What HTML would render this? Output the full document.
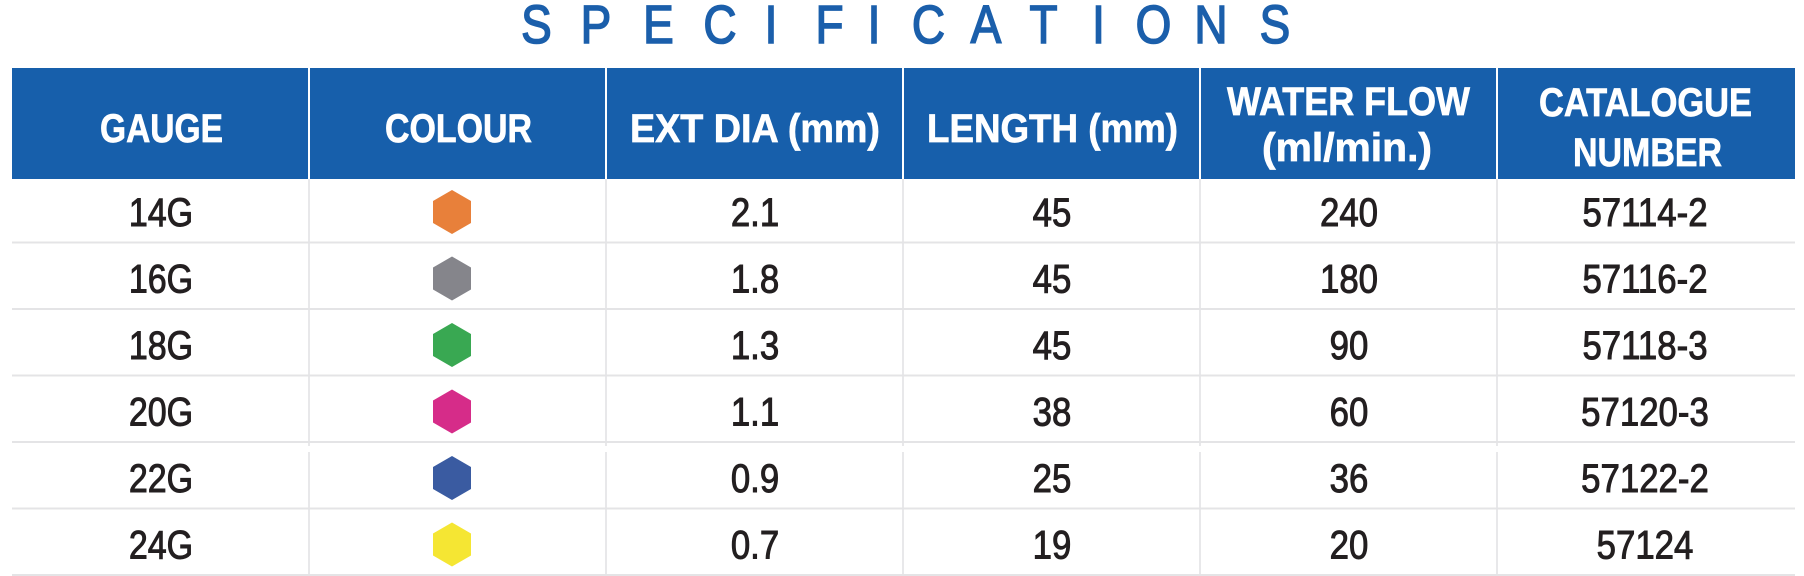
<!DOCTYPE html>
<html>
<head>
<meta charset="utf-8">
<style>
html,body{margin:0;padding:0;background:#fff;}
svg{display:block;}
.t{font-family:"Liberation Sans",sans-serif;font-size:54px;fill:#1b5fab;stroke:#1b5fab;stroke-width:1.6px;}
.h{font-family:"Liberation Sans",sans-serif;font-weight:bold;font-size:40px;fill:#fff;stroke:#fff;stroke-width:0.7px;}
.d{font-family:"Liberation Sans",sans-serif;font-size:40px;fill:#231f20;stroke:#231f20;stroke-width:1px;}
</style>
</head>
<body>
<svg width="1804" height="576" viewBox="0 0 1804 576" xmlns="http://www.w3.org/2000/svg">
<rect width="1804" height="576" fill="#fff"/>

<!-- Title -->
<g class="t" text-anchor="middle">
<text transform="translate(536.5,43) scale(0.85,1)">S</text>
<text transform="translate(596,43) scale(0.85,1)">P</text>
<text transform="translate(658.5,43) scale(0.85,1)">E</text>
<text transform="translate(720,43) scale(0.85,1)">C</text>
<text transform="translate(771,43) scale(0.85,1)">I</text>
<text transform="translate(829.5,43) scale(0.85,1)">F</text>
<text transform="translate(874,43) scale(0.85,1)">I</text>
<text transform="translate(928.5,43) scale(0.85,1)">C</text>
<text transform="translate(986,43) scale(0.85,1)">A</text>
<text transform="translate(1043.5,43) scale(0.85,1)">T</text>
<text transform="translate(1098.5,43) scale(0.85,1)">I</text>
<text transform="translate(1153.5,43) scale(0.85,1)">O</text>
<text transform="translate(1211,43) scale(0.85,1)">N</text>
<text transform="translate(1275,43) scale(0.85,1)">S</text>
</g>

<!-- Header -->
<rect x="12" y="68" width="1783" height="111" fill="#175fab"/>
<g stroke="#ffffff" stroke-width="2">
<line x1="309" y1="68" x2="309" y2="179"/>
<line x1="606" y1="68" x2="606" y2="179"/>
<line x1="903" y1="68" x2="903" y2="179"/>
<line x1="1200" y1="68" x2="1200" y2="179"/>
<line x1="1497" y1="68" x2="1497" y2="179"/>
</g>
<g class="h">
<text x="100" y="142" textLength="123" lengthAdjust="spacingAndGlyphs">GAUGE</text>
<text x="385" y="142" textLength="147" lengthAdjust="spacingAndGlyphs">COLOUR</text>
<text x="630" y="142" textLength="250" lengthAdjust="spacingAndGlyphs">EXT DIA (mm)</text>
<text x="927" y="142" textLength="251" lengthAdjust="spacingAndGlyphs">LENGTH (mm)</text>
<text x="1227" y="115" textLength="243" lengthAdjust="spacingAndGlyphs">WATER FLOW</text>
<text x="1262" y="161" textLength="170" lengthAdjust="spacingAndGlyphs">(ml/min.)</text>
<text x="1539" y="116" textLength="213" lengthAdjust="spacingAndGlyphs">CATALOGUE</text>
<text x="1573" y="166" textLength="149" lengthAdjust="spacingAndGlyphs">NUMBER</text>
</g>

<!-- Body grid -->
<g stroke="#e2e2e4" stroke-width="1.6">
<line x1="309" y1="179" x2="309" y2="575"/>
<line x1="606" y1="179" x2="606" y2="575"/>
<line x1="903" y1="179" x2="903" y2="575"/>
<line x1="1200" y1="179" x2="1200" y2="575"/>
<line x1="1497" y1="179" x2="1497" y2="575"/>
</g>
<rect x="12" y="446" width="1783" height="6" fill="#fff"/>
<g stroke="#e4e4e6" stroke-width="2">
<line x1="12" y1="242.5" x2="1795" y2="242.5"/>
<line x1="12" y1="309" x2="1795" y2="309"/>
<line x1="12" y1="375.5" x2="1795" y2="375.5"/>
<line x1="12" y1="442" x2="1795" y2="442"/>
<line x1="12" y1="508.5" x2="1795" y2="508.5"/>
<line x1="12" y1="575" x2="1795" y2="575"/>
</g>

<!-- Hexagons -->
<g>
<polygon transform="translate(452,212)" points="0,-22 19,-11 19,11 0,22 -19,11 -19,-11" fill="#e8803a"/>
<polygon transform="translate(452,278.5)" points="0,-22 19,-11 19,11 0,22 -19,11 -19,-11" fill="#85858b"/>
<polygon transform="translate(452,345)" points="0,-22 19,-11 19,11 0,22 -19,11 -19,-11" fill="#39a852"/>
<polygon transform="translate(452,411.5)" points="0,-22 19,-11 19,11 0,22 -19,11 -19,-11" fill="#d62c89"/>
<polygon transform="translate(452,478)" points="0,-22 19,-11 19,11 0,22 -19,11 -19,-11" fill="#3a5ba1"/>
<polygon transform="translate(452,544.5)" points="0,-22 19,-11 19,11 0,22 -19,11 -19,-11" fill="#f5e633"/>
</g>

<!-- Data -->
<g class="d" text-anchor="middle">
<text transform="translate(161,226) scale(0.85,1)">14G</text>
<text transform="translate(755,226) scale(0.87,1)">2.1</text>
<text transform="translate(1052,226) scale(0.87,1)">45</text>
<text transform="translate(1349,226) scale(0.87,1)">240</text>
<text transform="translate(1645,226) scale(0.87,1)">57114-2</text>

<text transform="translate(161,292.5) scale(0.85,1)">16G</text>
<text transform="translate(755,292.5) scale(0.87,1)">1.8</text>
<text transform="translate(1052,292.5) scale(0.87,1)">45</text>
<text transform="translate(1349,292.5) scale(0.87,1)">180</text>
<text transform="translate(1645,292.5) scale(0.87,1)">57116-2</text>

<text transform="translate(161,359) scale(0.85,1)">18G</text>
<text transform="translate(755,359) scale(0.87,1)">1.3</text>
<text transform="translate(1052,359) scale(0.87,1)">45</text>
<text transform="translate(1349,359) scale(0.87,1)">90</text>
<text transform="translate(1645,359) scale(0.87,1)">57118-3</text>

<text transform="translate(161,425.5) scale(0.85,1)">20G</text>
<text transform="translate(755,425.5) scale(0.87,1)">1.1</text>
<text transform="translate(1052,425.5) scale(0.87,1)">38</text>
<text transform="translate(1349,425.5) scale(0.87,1)">60</text>
<text transform="translate(1645,425.5) scale(0.87,1)">57120-3</text>

<text transform="translate(161,492) scale(0.85,1)">22G</text>
<text transform="translate(755,492) scale(0.87,1)">0.9</text>
<text transform="translate(1052,492) scale(0.87,1)">25</text>
<text transform="translate(1349,492) scale(0.87,1)">36</text>
<text transform="translate(1645,492) scale(0.87,1)">57122-2</text>

<text transform="translate(161,558.5) scale(0.85,1)">24G</text>
<text transform="translate(755,558.5) scale(0.87,1)">0.7</text>
<text transform="translate(1052,558.5) scale(0.87,1)">19</text>
<text transform="translate(1349,558.5) scale(0.87,1)">20</text>
<text transform="translate(1645,558.5) scale(0.87,1)">57124</text>
</g>
</svg>
</body>
</html>
